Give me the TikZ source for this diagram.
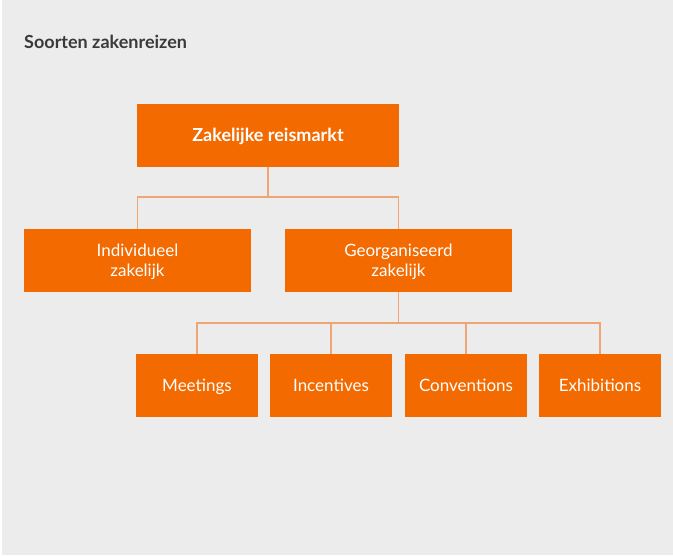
\documentclass[tikz,border=0pt]{standalone}
\usepackage{fontspec}
\setmainfont{Lato}
\definecolor{bg}{HTML}{ECECEC}
\definecolor{boxor}{HTML}{F26A00}
\definecolor{lineor}{HTML}{EFA574}
\definecolor{titlegr}{HTML}{3A3A3A}
\tikzset{
  box/.style={fill=boxor, text=white, inner sep=0pt, align=center,
    text height=12pt, text depth=0pt,
    font=\fontsize{17}{20}\selectfont},
  twoline/.style={text height=32pt},
  conn/.style={draw=lineor, line width=1.5pt}
}
\begin{document}
\begin{tikzpicture}[x=1pt,y=-1pt]
\fill[white] (0,0) rectangle (673,557);
\fill[bg] (2,0) rectangle (673,555);
\useasboundingbox (0,0) rectangle (673,557);
\node[anchor=base west, text=titlegr, inner sep=0pt, font=\fontsize{18}{20}\bfseries\selectfont] (title) at (24,48) {Soorten zakenreizen};
\node[box, minimum width=262pt, minimum height=63pt, font=\fontsize{18}{20}\bfseries\selectfont] (top) at (268,135.5) {Zakelijke reismarkt};
\node[box, twoline, minimum width=227pt, minimum height=63pt] (ind) at (137.5,260.5) {Individueel\\zakelijk};
\node[box, twoline, minimum width=227pt, minimum height=63pt] (geo) at (398.5,260.5) {Georganiseerd\\zakelijk};
\node[box, minimum width=122pt, minimum height=63pt] (mee) at (197,385.5) {Meetings};
\node[box, minimum width=122pt, minimum height=63pt] (inc) at (331,385.5) {Incentives};
\node[box, minimum width=122pt, minimum height=63pt] (con) at (466,385.5) {Conventions};
\node[box, minimum width=122pt, minimum height=63pt] (exh) at (600,385.5) {Exhibitions};
\coordinate (j1) at (268,197);
\coordinate (j2) at (398.5,323);
\draw[conn] (top.south) -- (j1);
\draw[conn] (ind.north) |- (j1) -| (geo.north);
\draw[conn] (geo.south) -- (j2);
\draw[conn] (mee.north) |- (j2) -| (exh.north);
\draw[conn] (inc.north) -- (inc.north |- j2);
\draw[conn] (con.north) -- (con.north |- j2);
\end{tikzpicture}
\end{document}
